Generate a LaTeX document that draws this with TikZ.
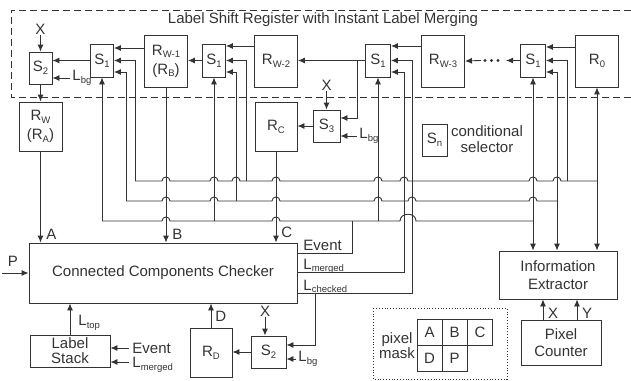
\documentclass[tikz,border=0pt]{standalone}
\usepackage{fontspec}
\setmainfont{Liberation Sans}
\usetikzlibrary{arrows.meta,calc}
\newcommand{\lsub}[1]{\raisebox{-0.35ex}{\fontsize{9.5}{10}\selectfont #1}}
\newcommand{\hp}[2]{-- ({#1-4},#2) .. controls ({#1-4},{#2-5.3}) and ({#1+4},{#2-5.3}) .. ({#1+4},#2)}
\newcommand{\bighp}[2]{-- ({#1-8},#2) .. controls ({#1-8},{#2-9}) and ({#1+8},{#2-9}) .. ({#1+8},#2)}
\begin{document}
\begin{tikzpicture}[x=1pt,y=-1pt,line width=0.9pt,
  every node/.style={font=\fontsize{15}{16}\selectfont,text=black!80,inner sep=0pt},
  box/.style={draw=black!80,rectangle,align=center},
  arr/.style={draw=black!80,-{Latex[length=7pt,width=6pt]}},
  darr/.style={draw=black!80,{Latex[length=7pt,width=6pt]}-{Latex[length=7pt,width=6pt]}},
  wire/.style={draw=black!80},
  sel/.style={box,minimum width=23pt,minimum height=33pt},
  reg/.style={box,minimum width=43pt,minimum height=52pt}]
\useasboundingbox (0,0) rectangle (631,380);
% dashed frame and title
\draw[black!80,dash pattern=on 7pt off 4pt] (631,10) -- (11,10) -- (11,97) -- (631,97);
\node (title) at (323,20) {Label Shift Register with Instant Label Merging};
% top row
\node[box,minimum width=23pt,minimum height=32pt] (S2a) at (40.5,68) {S\lsub{2}};
\node (Xa) at (40.5,29) {X};
\node[anchor=west] (Lbga) at (72,78) {L\lsub{bg}};
\node[box,minimum width=43pt,minimum height=49pt] (Rw) at (40.5,126.5) {R\lsub{W}\\[3pt](R\lsub{A})};
\node[sel] (S1a) at (102,60.5) {S\lsub{1}};
\node[reg] (Rw1) at (166,61) {R\lsub{W-1}\\[3pt](R\lsub{B})};
\node[sel] (S1b) at (214,60.5) {S\lsub{1}};
\node[reg] (Rw2) at (276,61) {R\lsub{W-2}};
\node[sel,minimum width=25pt] (S1c) at (378,60.5) {S\lsub{1}};
\node[reg] (Rw3) at (443,61) {R\lsub{W-3}};
\node[sel,minimum width=25pt] (S1d) at (533,60.5) {S\lsub{1}};
\node[reg] (R0) at (597,61) {R\lsub{0}};
% S3 / Rc
\node[box,minimum width=27pt,minimum height=32pt] (S3) at (326.5,126) {S\lsub{3}};
\node (Xc) at (326.5,85) {X};
\node[anchor=west] (Lbgc) at (359,136) {L\lsub{bg}};
\node[box,minimum width=42pt,minimum height=49pt] (Rc) at (276,126.5) {R\lsub{C}};
% legend
\node[box,minimum width=25pt,minimum height=32pt] (Sn) at (434.5,140) {S\lsub{n}};
\node[align=center,font=\fontsize{15}{16.5}\selectfont] (cs) at (487,139) {conditional\\selector};
% checker
\node[box,minimum width=268pt,minimum height=60pt] (CCC) at (163,273) {Connected Components Checker};
\node[anchor=base west] (Ev) at (303,250) {Event};
\node[anchor=base west] (Lm) at (303,269) {L\lsub{merged}};
\node[anchor=base west] (Lc) at (303,290) {L\lsub{checked}};
\node[anchor=west] (A) at (46,234) {A};
\node[anchor=west] (B) at (172,234) {B};
\node[anchor=west] (C) at (281,232) {C};
\node (P) at (13,261) {P};
\coordinate (Pin) at (2,273);
% bottom
\node[box,minimum width=80pt,minimum height=32pt,font=\fontsize{15}{15}\selectfont] (LS) at (70,351) {Label\\Stack};
\node[anchor=west] (Ltop) at (78,323) {L\lsub{top}};
\node[anchor=base west] (EvLS) at (132,353) {Event};
\node[anchor=base west] (LmLS) at (132,367.5) {L\lsub{merged}};
\node[box,minimum width=42pt,minimum height=49pt] (RD) at (211,352.5) {R\lsub{D}};
\node[anchor=west] (D) at (215,316) {D};
\node[box,minimum width=35pt,minimum height=32pt] (S2b) at (268.5,352) {S\lsub{2}};
\node (Xb) at (265,311) {X};
\node[anchor=west] (Lbgb) at (298,359) {L\lsub{bg}};
% information extractor
\node[box,minimum width=118pt,minimum height=48pt,font=\fontsize{15}{18}\selectfont] (IE) at (558,275) {Information\\Extractor};
\node[box,minimum width=80pt,minimum height=45pt,font=\fontsize{15}{17}\selectfont] (PC) at (561,342.5) {Pixel\\Counter};
\node (Xp) at (553,313) {X};
\node (Yp) at (587,313) {Y};
% pixel mask
\draw[black!80,dotted,line width=0.8pt] (373,308) rectangle (507,379);
\node[align=center,font=\fontsize{15}{15}\selectfont] (pm) at (397,346) {pixel\\mask};
\tikzset{cell/.style={box,minimum width=25pt,minimum height=26pt,line width=0.8pt}}
\node[cell] (mA) at (429.5,332) {A};
\node[cell] (mB) at (454.5,332) {B};
\node[cell] (mC) at (480,332) {C};
\node[cell] (mD) at (429.5,358) {D};
\node[cell] (mP) at (454.5,358) {P};
% ---- connectors top-left
\draw[arr] (Xa) -- (S2a);
\draw[arr] ([xshift=-2pt]Lbga.west) -- (Lbga.west -| S2a.east);
\draw[arr] (S1a.west) -- (S1a.west -| S2a.east);
\draw[arr] (S2a) -- (Rw);
\draw[arr] (Rw1.west |- 0,48) -- (S1a.east |- 0,48);
\draw[arr] (135,181) |- (S1a.east);
\draw[arr] (126,201) |- (S1a.east |- 0,72);
\draw[arr] (102,221) -- (S1a.south);
% S1b
\draw[arr] (S1b.west) -- (S1b.west -| Rw1.east);
\draw[arr] (Rw2.west |- 0,46) -- (S1b.east |- 0,46);
\draw[arr] (246,181) |- (S1b.east);
\draw[arr] (236,201) |- (S1b.east |- 0,72);
\draw[arr] (214,221) -- (S1b.south);
% S1c
\draw[arr] (S1c.west) -- (S1c.west -| Rw2.east);
\draw[arr] (357,60.5) |- (S3.east |- 0,118);
\draw[arr] (Rw3.west |- 0,46) -- (S1c.east |- 0,46);
\draw[arr] (CCC.east |- 0,293) -- (412,293) |- (S1c.east);
\draw[arr] (CCC.east |- 0,272) -- (404,272) |- (S1c.east |- 0,72);
\draw[wire] (CCC.east |- 0,253) -| (352,221);
\draw[arr] (378,221) -- (S1c.south);
\draw[arr] (315,293) |- (S2b.east |- 0,345);
% S3
\draw[arr] (Xc) -- (S3);
\draw[arr] ([xshift=-2pt]Lbgc.west) -- (Lbgc.west -| S3.east);
\draw[arr] (S3.west) -- (S3.west -| Rc.east);
% S1d
\draw[arr] (S1d.west) -- ++(-14,0);
\fill[black!80] (485,60.5) circle (1.6pt) (491.5,60.5) circle (1.6pt) (498,60.5) circle (1.6pt);
\draw[arr] (481,60.5) -- (Rw3.east);
\draw[arr] (R0.west |- 0,47) -- (S1d.east |- 0,47);
\draw[arr] (567,181) |- (S1d.east);
\draw[darr] (IE.north -| 557,0) |- (S1d.east |- 0,72);
\draw[darr] (S1d.south) -- (S1d.south |- IE.north);
\draw[darr] (R0.south) -- (R0.south |- IE.north);
% buses
\draw[wire] (135,181) \hp{166}{181} \hp{214}{181} \hp{236}{181} \hp{276}{181} \hp{378}{181} \hp{404}{181} \hp{533}{181} \hp{557}{181} -- (597,181);
\draw[wire] (126,201) \hp{166}{201} \hp{214}{201} \hp{276}{201} \hp{378}{201} \hp{412}{201} \hp{533}{201} -- (557,201);
\draw[wire] (102,221) \hp{166}{221} \hp{276}{221} \bighp{408}{221} -- (533,221);
% into checker
\draw[arr] (Rw) -- (Rw.south |- CCC.north);
\draw[arr] (Rw1) -- (Rw1.south |- CCC.north);
\draw[arr] (Rc) -- (Rc.south |- CCC.north);
\draw[arr] (Pin) -- (CCC.west |- Pin);
\draw[arr] (LS) -- (LS.north |- CCC.south);
\draw[arr] (RD) -- (RD.north |- CCC.south);
% bottom inputs
\draw[arr] ([xshift=-3pt]EvLS.west |- 0,348) -- (LS.east |- 0,348);
\draw[arr] ([xshift=-3pt]LmLS.west |- 0,362) -- (LS.east |- 0,362);
\draw[arr] (Xb) -- (Xb |- S2b.north);
\draw[arr] ([xshift=-2pt]Lbgb.west) -- (Lbgb.west -| S2b.east);
\draw[arr] (S2b.west) -- (S2b.west -| RD.east);
% pixel counter
\draw[arr] (PC.north -| 543,0) -- (IE.south -| 543,0);
\draw[arr] (PC.north -| 577,0) -- (IE.south -| 577,0);
\end{tikzpicture}
\end{document}
